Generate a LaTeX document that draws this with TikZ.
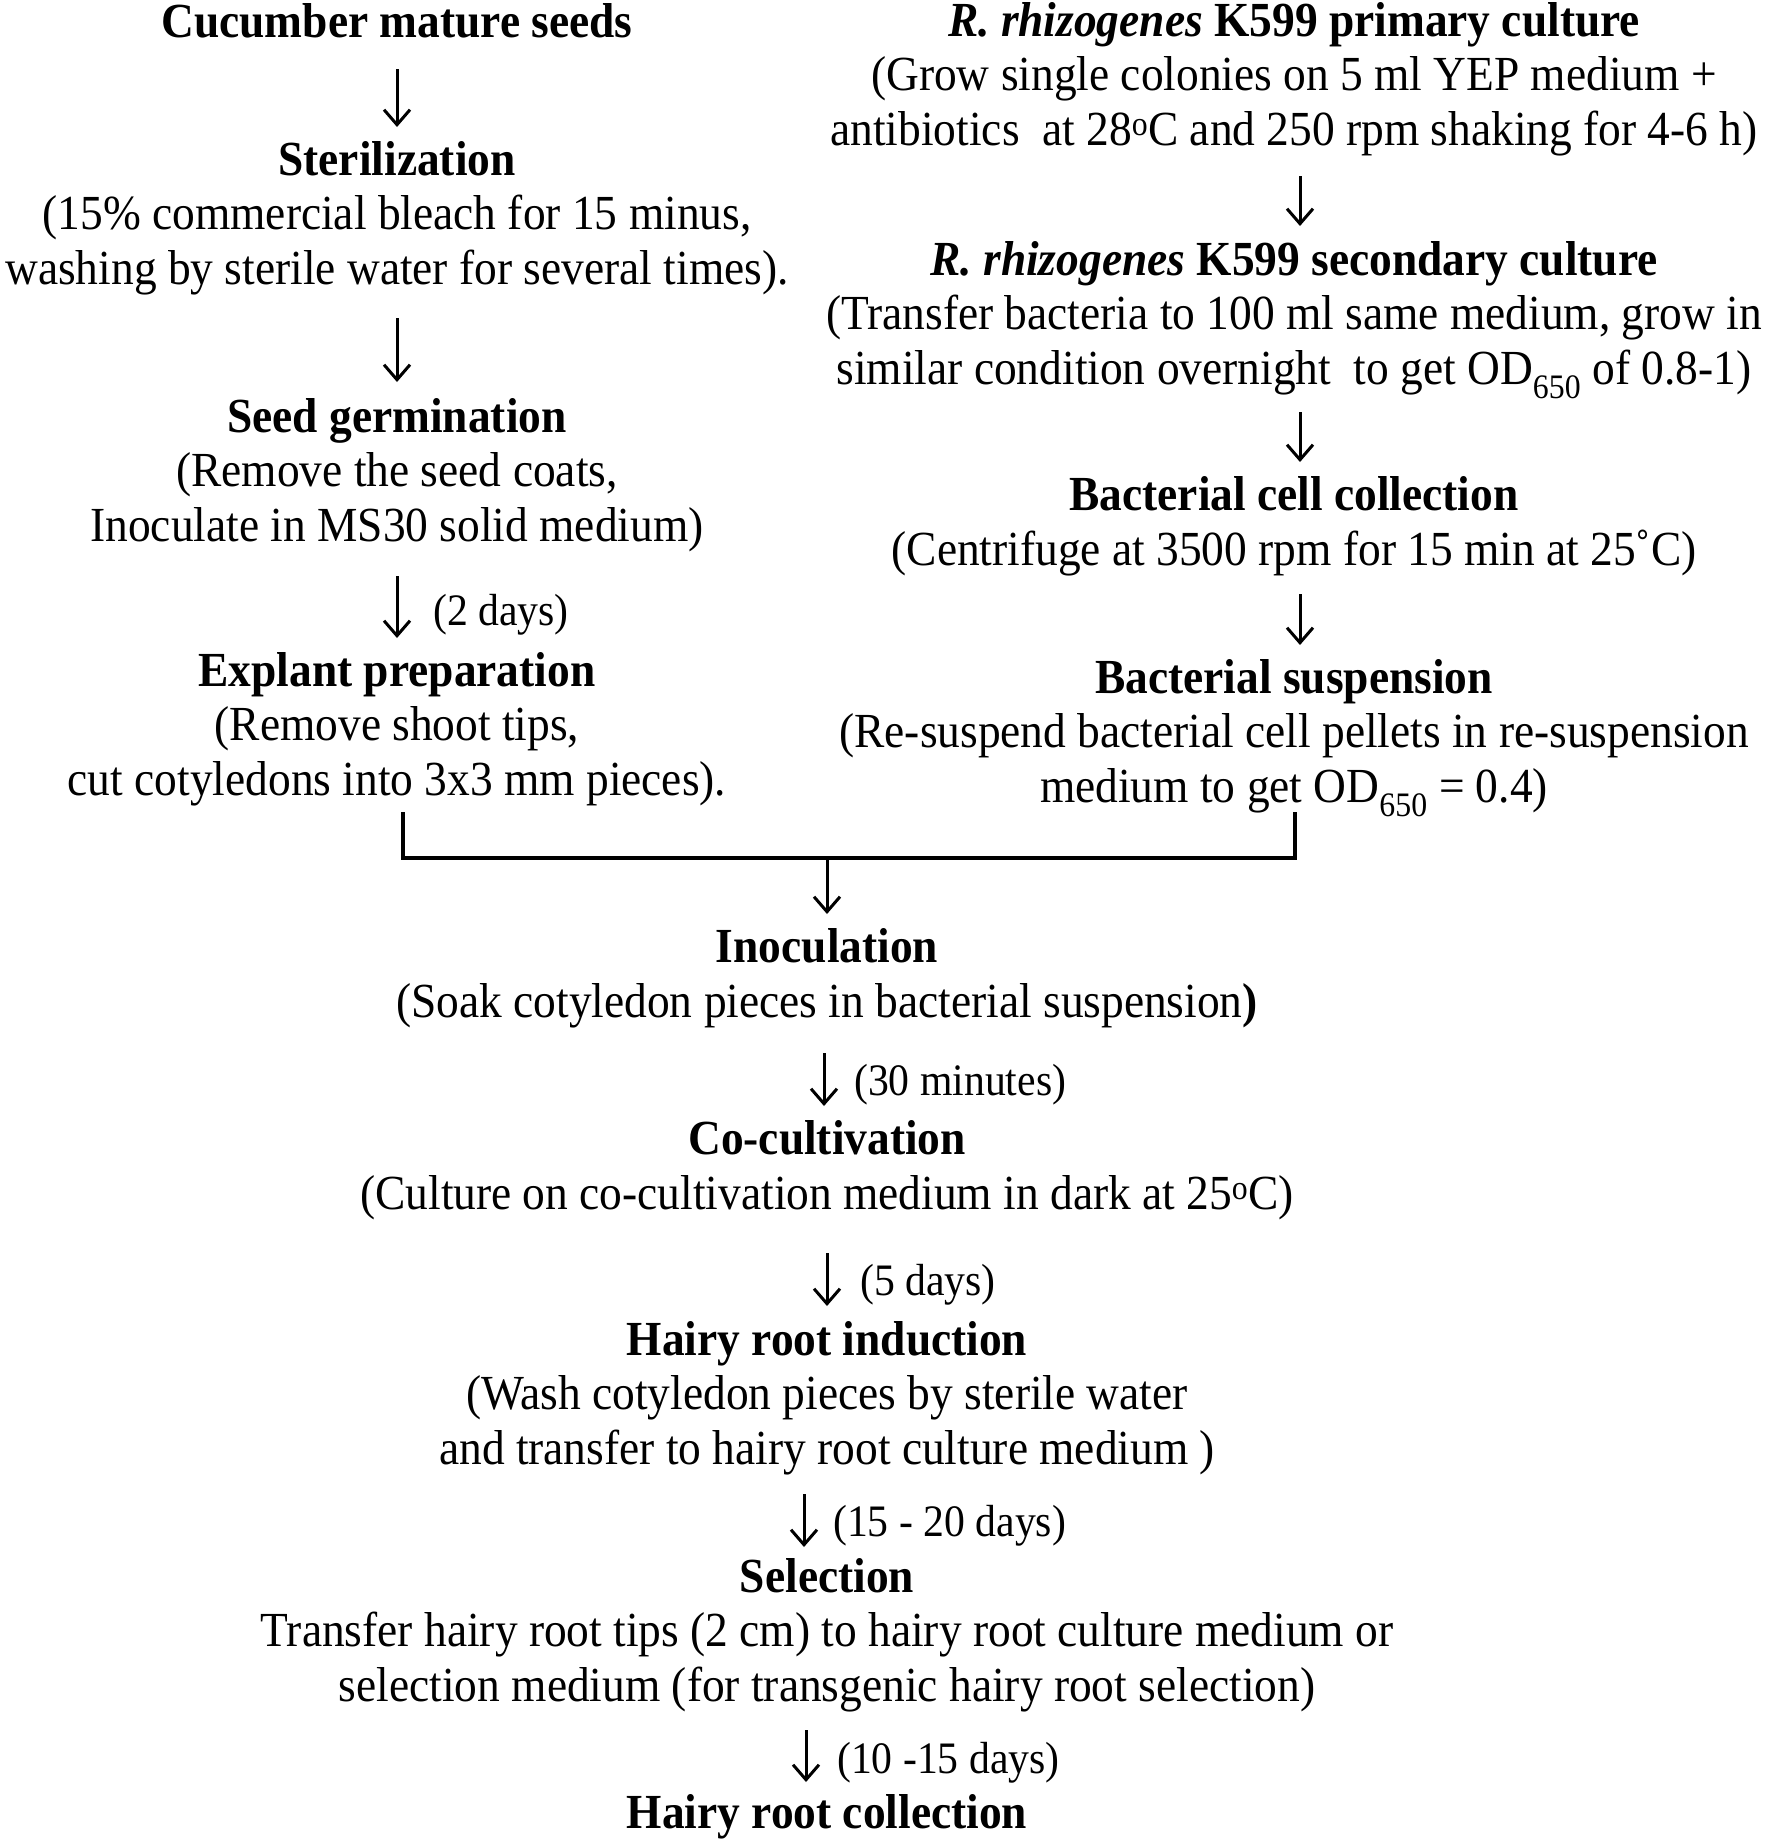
\documentclass[tikz,border=0pt]{standalone}
\usepackage{fontspec}
\setmainfont{Liberation Serif}[FakeStretch=0.927]
\usetikzlibrary{arrows.meta}
\begin{document}
\begin{tikzpicture}[x=1pt,y=-1pt,
  txt/.style={font=\fontsize{49}{54.5}\selectfont, align=center, inner sep=0pt, anchor=base},
  lbl/.style={font=\fontsize{45}{50}\selectfont, inner sep=0pt, anchor=base west},
  arr/.style={line width=3pt, -{Straight Barb[length=15pt,width=26pt,line width=3pt]}},
  brk/.style={line width=4.5pt}]
\useasboundingbox (0,0) rectangle (1772,1845);
% left column (anchor = baseline of last line)
\node[txt] (seeds) at (397,37) {{\bfseries Cucumber mature seeds}};
\node[txt] (steril) at (397,284) {{\bfseries Sterilization}\\(15\% commercial bleach for 15 minus,\\washing by sterile water for several times).};
\node[txt] (germ) at (397,541) {{\bfseries Seed germination}\\(Remove the seed coats,\\Inoculate in MS30 solid medium)};
\node[txt] (expl) at (397,795) {{\bfseries Explant preparation}\\(Remove shoot tips,\\cut cotyledons into 3x3 mm pieces).};
% right column
\node[txt] (prim) at (1294,145) {{\bfseries\textit{R. rhizogenes} K599 primary culture}\\(Grow single colonies on 5 ml YEP medium +\\antibiotics\ \ at 28\textsuperscript{o}C and 250 rpm shaking for 4-6 h)};
\node[txt] (sec) at (1294,384) {{\bfseries\textit{R. rhizogenes} K599 secondary culture}\\(Transfer bacteria to 100 ml same medium, grow in\\similar condition overnight\ \ to get OD\textsubscript{650} of 0.8-1)};
\node[txt] (cells) at (1294,565) {{\bfseries Bacterial cell collection}\\(Centrifuge at 3500 rpm for 15 min at 25˚C)};
\node[txt] (susp) at (1294,802) {{\bfseries Bacterial suspension}\\(Re-suspend bacterial cell pellets in re-suspension\\medium to get OD\textsubscript{650} = 0.4)};
% bottom column
\node[txt] (inoc) at (827,1017) {{\bfseries Inoculation}\\(Soak cotyledon pieces in bacterial suspension{\bfseries )}};
\node[txt] (cocult) at (827,1209) {{\bfseries Co-cultivation}\\(Culture on co-cultivation medium in dark at 25\textsuperscript{o}C)};
\node[txt] (induct) at (827,1464) {{\bfseries Hairy root induction}\\(Wash cotyledon pieces by sterile water\\and transfer to hairy root culture medium )};
\node[txt] (sel) at (827,1701) {{\bfseries Selection}\\Transfer hairy root tips (2 cm) to hairy root culture medium or\\selection medium (for transgenic hairy root selection)};
\node[txt] (hcoll) at (827,1828) {{\bfseries Hairy root collection}};
% arrow labels
\node[lbl] (l1) at (433,625) {(2 days)};
\node[lbl] (l2) at (854,1095) {(30 minutes)};
\node[lbl] (l3) at (860,1295) {(5 days)};
\node[lbl] (l4) at (833,1536) {(15 - 20 days)};
\node[lbl] (l5) at (837,1773) {(10 -15 days)};
% arrow coordinates
\coordinate (a1s) at (397,69);   \coordinate (a1e) at (397,127);
\coordinate (a2s) at (397,318);  \coordinate (a2e) at (397,382);
\coordinate (a3s) at (397,576);  \coordinate (a3e) at (397,638);
\coordinate (a4s) at (1300,176); \coordinate (a4e) at (1300,226);
\coordinate (a5s) at (1300,412); \coordinate (a5e) at (1300,462);
\coordinate (a6s) at (1300,594); \coordinate (a6e) at (1300,645);
\coordinate (a7s) at (827,860);  \coordinate (a7e) at (827,914);
\coordinate (a8s) at (824,1053); \coordinate (a8e) at (824,1106);
\coordinate (a9s) at (827,1253); \coordinate (a9e) at (827,1306);
\coordinate (a10s) at (804,1494); \coordinate (a10e) at (804,1547);
\coordinate (a11s) at (806,1730); \coordinate (a11e) at (806,1782);
\foreach \i in {1,...,11} { \draw[arr] (a\i s) -- (a\i e); }
% bracket
\coordinate (bl) at (403,812);
\coordinate (blb) at (403,858);
\coordinate (brb) at (1295,858);
\coordinate (br) at (1295,812);
\draw[brk] (bl) -- (blb) -- (brb) -- (br);
\end{tikzpicture}
\end{document}
